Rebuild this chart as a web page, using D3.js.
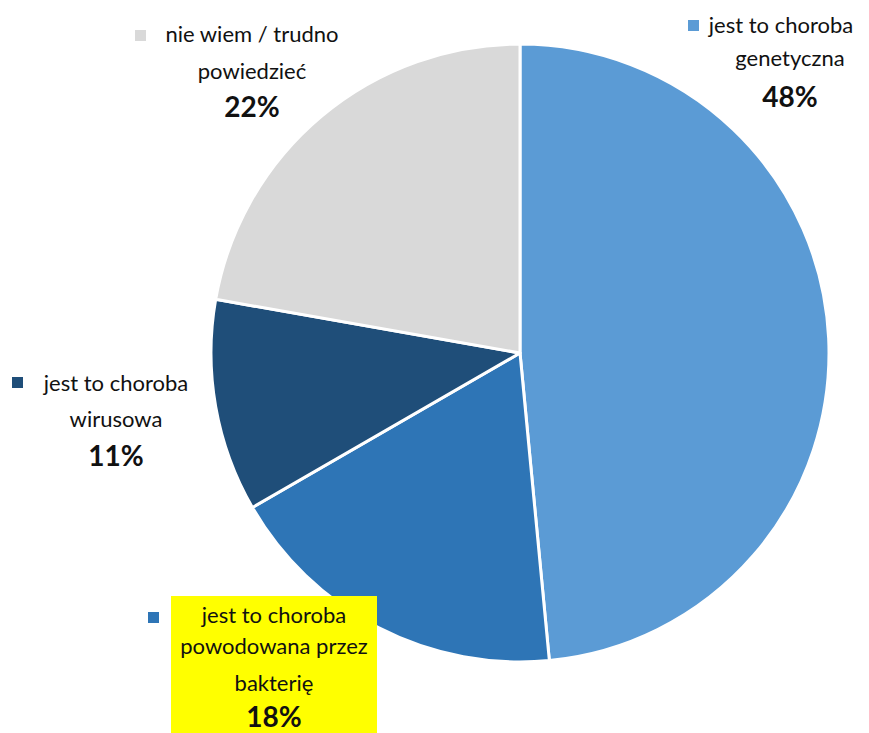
<!DOCTYPE html>
<html>
<head>
<meta charset="utf-8">
<script src="https://cdn.jsdelivr.net/npm/d3@7"></script>
<style>
  html, body { margin: 0; padding: 0; background: #fff; }
  svg { display: block; }
  text { font-family: Lato, "Open Sans", sans-serif; fill: #111; }
</style>
</head>
<body>
<svg id="chart" width="869" height="733"></svg>
<script>
// Survey answers, clockwise from 12 o'clock
const categories = [
  "jest to choroba genetyczna",
  "jest to choroba powodowana przez bakterię",
  "jest to choroba wirusowa",
  "nie wiem / trudno powiedzieć"
];
const values = [48, 18, 11, 22];
const colors = ["#5B9BD5", "#2E75B6", "#1F4E79", "#D9D9D9"];

// Label text lines per category
const labelLines = [
  ["jest to choroba", "genetyczna"],
  ["jest to choroba", "powodowana przez", "bakterię"],
  ["jest to choroba", "wirusowa"],
  ["nie wiem / trudno", "powiedzieć"]
];
// Label placement: centre x, line baselines, legend-key square position
const labelLayout = [
  { cx: 781, ys: [33, 66], py: 107, key: [688, 20], cxs: [781, 790], pcx: 790 },
  { cx: 274, ys: [623, 654, 691], py: 727, key: [148, 612], box: [171, 596, 206, 137] },
  { cx: 116, ys: [391, 427], py: 466, key: [12, 377] },
  { cx: 252, ys: [42, 79], py: 117, key: [135, 30] }
];

const svg = d3.select("#chart");
const cx = 520, cy = 353, r = 309;

const pie = d3.pie().value(d => d).sort(null);
const arc = d3.arc().innerRadius(0).outerRadius(r);
const color = d3.scaleOrdinal().domain(d3.range(values.length)).range(colors);

const g = svg.append("g").attr("transform", `translate(${cx},${cy})`);
g.selectAll("path")
  .data(pie(values))
  .join("path")
  .attr("d", arc)
  .attr("fill", (d, i) => color(i))
  .attr("stroke", "#fff")
  .attr("stroke-width", 3)
  .attr("stroke-linejoin", "round");

// Labels with legend keys
labelLayout.forEach((L, i) => {
  const lg = svg.append("g");
  if (L.box) {
    lg.append("rect")
      .attr("x", L.box[0]).attr("y", L.box[1])
      .attr("width", L.box[2]).attr("height", L.box[3])
      .attr("fill", "#FFFF00");
  }
  lg.append("rect")
    .attr("x", L.key[0]).attr("y", L.key[1])
    .attr("width", 11).attr("height", 11)
    .attr("fill", color(i));
  labelLines[i].forEach((t, j) => {
    lg.append("text")
      .attr("x", L.cxs ? L.cxs[j] : L.cx)
      .attr("y", L.ys[j])
      .attr("text-anchor", "middle")
      .attr("font-size", 22)
      .text(t);
  });
  lg.append("text")
    .attr("x", L.pcx || L.cx)
    .attr("y", L.py)
    .attr("text-anchor", "middle")
    .attr("font-size", 28)
    .attr("font-weight", "bold")
    .text(values[i] + "%");
});
</script>
</body>
</html>
